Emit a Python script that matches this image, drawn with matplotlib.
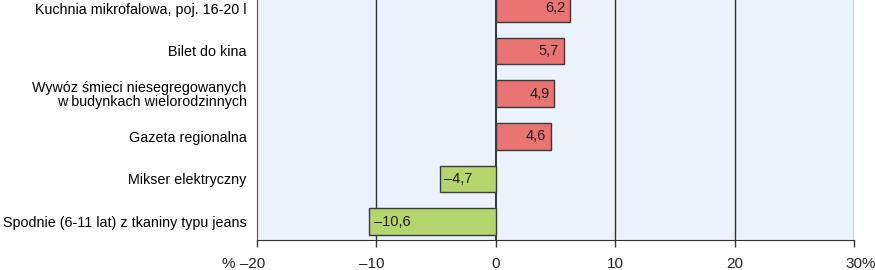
import matplotlib
matplotlib.use("Agg")
import matplotlib.pyplot as plt

plt.rcParams["font.family"] = ["Liberation Sans", "DejaVu Sans"]

labels = [
    "Kuchnia mikrofalowa, poj. 16-20 l",
    "Bilet do kina",
    "Wywóz śmieci niesegregowanych\nw budynkach wielorodzinnych",
    "Gazeta regionalna",
    "Mikser elektryczny",
    "Spodnie (6-11 lat) z tkaniny typu jeans",
]
values = [6.2, 5.7, 4.9, 4.6, -4.7, -10.6]
xticks = [-20, -10, 0, 10, 20, 30]
xtick_labels = ["% \u201320", "\u201310", "0", "10", "20", "30%"]

RED = "#e87474"
GREEN = "#b5d66f"
EDGE = "#3a3a3a"

fig = plt.figure(figsize=(8.75, 2.7), dpi=100)
ax = fig.add_axes([257 / 875, 30 / 270, 597 / 875, 240 / 270])
ax.set_facecolor("#eaf3fb")

ypos = list(range(len(values)))
colors = [RED if v > 0 else GREEN for v in values]
ax.barh(ypos, values, height=0.62, color=colors, edgecolor=EDGE, linewidth=1.0, zorder=3)

for y, v in zip(ypos, values):
    txt = f"{abs(v):.1f}".replace(".", ",")
    if v > 0:
        ax.text(v - 0.4, y, txt, ha="right", va="center", fontsize=10.5, color="#2a1a1a", zorder=4)
    else:
        ax.text(v + 0.4, y, "\u2013" + txt, ha="left", va="center", fontsize=10.5, color="#2a1a1a", zorder=4)

ax.set_xlim(-20, 30)
ax.set_ylim(5.43, -0.195)
ax.set_xticks(xticks)
ax.set_xticklabels([])
ax.set_yticks(ypos)
ax.set_yticklabels(labels, fontsize=10.3, linespacing=1.0)
ax.tick_params(axis="y", length=0, pad=7.5)
ax.tick_params(axis="x", length=5, width=1.0, color="#333333")

# tick labels: digits centred on the tick, signs hang outside
digit_half = 5.9
for x, lab in zip(xticks, xtick_labels):
    if x < 0:
        ha, dx = "right", digit_half
    elif lab.endswith("%"):
        ha, dx = "left", -digit_half
    else:
        ha, dx = "center", 0
    ax.annotate(lab, xy=(x, 0), xycoords=ax.get_xaxis_transform(),
                xytext=(dx, -20.2), textcoords="offset points",
                ha=ha, va="baseline", fontsize=11, color="#222222",
                annotation_clip=False)

for x in xticks[1:]:
    ax.axvline(x, color="#333333", linewidth=1.4 if x == 0 else 1.0, zorder=2)

ax.spines["top"].set_visible(False)
ax.spines["right"].set_visible(False)
ax.spines["left"].set_color("#555555")
ax.spines["bottom"].set_color("#333333")

plt.savefig("out.png", dpi=100)
plt.close()
